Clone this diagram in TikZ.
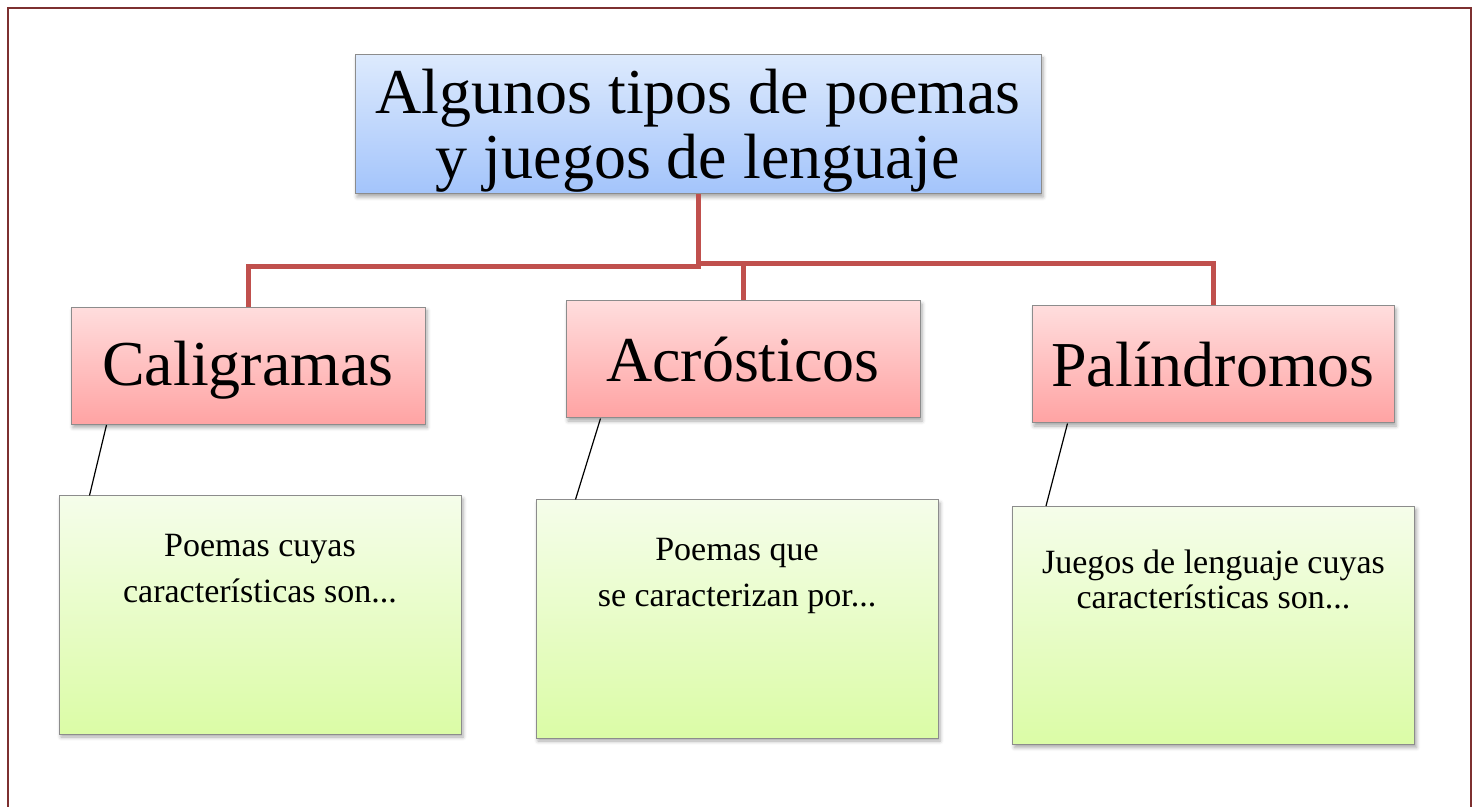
\documentclass[tikz,border=0pt]{standalone}
\usepackage{fontspec}
\setmainfont{Liberation Serif}
\usetikzlibrary{shadows.blur}
\definecolor{branchred}{RGB}{192,80,77}
\definecolor{framered}{RGB}{125,48,48}
\definecolor{titletop}{RGB}{221,234,253}
\definecolor{titlebot}{RGB}{163,196,251}
\definecolor{headtop}{RGB}{255,221,221}
\definecolor{headbot}{RGB}{255,163,163}
\definecolor{notetop}{RGB}{245,253,234}
\definecolor{notebot}{RGB}{219,252,166}
\begin{document}
\begin{tikzpicture}[x=0.5pt,y=-0.5pt,
    box/.style={draw=black!45,line width=0.5pt,
      blur shadow={shadow xshift=1pt,shadow yshift=-1.5pt,shadow blur steps=4,shadow opacity=35}},
    titlebox/.style={box,top color=titletop,bottom color=titlebot,minimum width=343pt,
      minimum height=69.5pt,align=center,inner sep=0pt,font=\fontsize{32}{32.5}\selectfont},
    headbox/.style={box,top color=headtop,bottom color=headbot,minimum width=177pt,
      minimum height=58.5pt,font=\fontsize{32}{36}\selectfont},
    notebox/.style={box,top color=notetop,bottom color=notebot,minimum width=201pt,minimum height=119pt},
    notetext/.style={anchor=north,align=center,inner sep=0pt,font=\fontsize{17}{23}\selectfont},
    branch/.style={draw=branchred,line width=2.5pt},
    link/.style={draw,line width=0.6pt}]
    \useasboundingbox (0,0) rectangle (1479,807);
    \clip (0,0) rectangle (1479,807);
    \draw[framered,line width=1.3pt] (8,8) rectangle (1471,840);

    % titulo
    \node[titlebox] (title) at (698,124.5) {\rule{0pt}{28pt}Algunos tipos de poemas\\y juegos de lenguaje};

    % tipos
    \node[headbox] (cal) at (248,366) {\rule{0pt}{26pt}Caligramas};
    \node[headbox] (acr) at (743,359.5) {Acrósticos};
    \node[headbox,minimum width=181pt] (pal) at (1213,364.5) {Palíndromos};

    \draw[branch] (title.south) -- ++(0,72) -| (cal.north);
    \draw[branch] (title.south) ++(0,69) -| (acr.north);
    \draw[branch] (title.south) ++(0,69) -| (pal.north);

    % cuadros de notas
    \node[notebox] (gcal) at (260,615) {};
    \node[notebox] (gacr) at (737,619) {};
    \node[notebox] (gpal) at (1213.5,625.5) {};

    \node[notetext] (tcal) at ([yshift=-19pt]gcal.north) {Poemas cuyas\\características son...};
    \node[notetext] (tacr) at ([yshift=-19pt]gacr.north) {Poemas que\\se caracterizan por...};
    \node[notetext,font=\fontsize{17}{17.5}\selectfont] (tpal) at ([yshift=-22pt]gpal.north)
      {Juegos de lenguaje cuyas\\características son...};

    \draw[link] ([xshift=18pt]cal.south west) -- ([xshift=15.5pt]gcal.north west);
    \draw[link] ([xshift=17.5pt]acr.south west) -- ([xshift=20pt]gacr.north west);
    \draw[link] ([xshift=18pt]pal.south west) -- ([xshift=17pt]gpal.north west);
\end{tikzpicture}
\end{document}
